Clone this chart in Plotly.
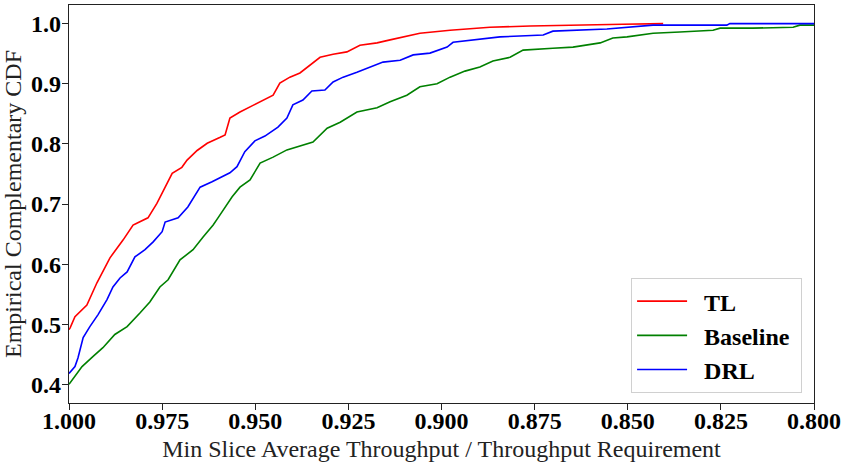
import plotly.graph_objects as go

# TL (red)
tl_x = [1.0000, 0.9997, 0.9984, 0.9952, 0.9925, 0.9890, 0.9855, 0.9828, 0.9818, 0.9788,
        0.9764, 0.9737, 0.9723, 0.9697, 0.9683, 0.9656, 0.9629, 0.9594, 0.9581, 0.9568,
        0.9541, 0.9506, 0.9479, 0.9452, 0.9434, 0.9407, 0.9380, 0.9353, 0.9326, 0.9291,
        0.9254, 0.9219, 0.9173, 0.9138, 0.9103, 0.9058, 0.8977, 0.8889, 0.8870, 0.8762,
        0.8663, 0.8513, 0.8405]
tl_y = [0.491, 0.494, 0.5125, 0.532, 0.569, 0.6105, 0.640, 0.665, 0.668, 0.677,
        0.701, 0.735, 0.751, 0.761, 0.773, 0.789, 0.801, 0.811, 0.815, 0.843,
        0.853, 0.864, 0.873, 0.881, 0.901, 0.911, 0.918, 0.931, 0.944, 0.949,
        0.953, 0.964, 0.968, 0.973, 0.978, 0.984, 0.989, 0.9925, 0.994, 0.996,
        0.9975, 0.999, 1.000]

# Baseline (green)
bl_x = [1.0000, 0.9984, 0.9965, 0.9936, 0.9909, 0.9877, 0.9844, 0.9809, 0.9783, 0.9756,
        0.9734, 0.9702, 0.9667, 0.9640, 0.9613, 0.9600, 0.9562, 0.9541, 0.9514, 0.9487,
        0.9452, 0.9415, 0.9380, 0.9345, 0.9307, 0.9272, 0.9227, 0.9173, 0.9138, 0.9093,
        0.9058, 0.9012, 0.8977, 0.8937, 0.8897, 0.8862, 0.8816, 0.8781, 0.8701, 0.8647,
        0.8574, 0.8540, 0.8502, 0.8432, 0.8360, 0.8271, 0.8252, 0.8164, 0.8056, 0.8038,
        0.8000]
bl_y = [0.400, 0.413, 0.4295, 0.446, 0.461, 0.483, 0.496, 0.519, 0.537, 0.562,
        0.574, 0.607, 0.624, 0.645, 0.665, 0.677, 0.712, 0.728, 0.740, 0.768,
        0.778, 0.790, 0.797, 0.803, 0.826, 0.836, 0.853, 0.860, 0.870, 0.881,
        0.895, 0.900, 0.911, 0.921, 0.928, 0.938, 0.944, 0.956, 0.959, 0.961,
        0.968, 0.976, 0.978, 0.984, 0.986, 0.989, 0.9925, 0.9925, 0.994, 0.9975,
        0.9975]

# DRL (blue)
drl_x = [1.0000, 0.9997, 0.9984, 0.9976, 0.9962, 0.9944, 0.9922, 0.9898, 0.9882, 0.9863,
         0.9844, 0.9823, 0.9796, 0.9774, 0.9750, 0.9742, 0.9707, 0.9681, 0.9648, 0.9616,
         0.9568, 0.9549, 0.9528, 0.9501, 0.9474, 0.9439, 0.9415, 0.9399, 0.9372, 0.9348,
         0.9313, 0.9291, 0.9264, 0.9227, 0.9192, 0.9157, 0.9111, 0.9076, 0.9031, 0.8985,
         0.8969, 0.8905, 0.8843, 0.8727, 0.8701, 0.8556, 0.8502, 0.8432, 0.8234, 0.8226,
         0.8000]
drl_y = [0.418, 0.420, 0.4295, 0.444, 0.478, 0.496, 0.516, 0.541, 0.562, 0.577,
         0.587, 0.612, 0.624, 0.637, 0.654, 0.670, 0.677, 0.695, 0.728, 0.737,
         0.752, 0.762, 0.787, 0.805, 0.813, 0.828, 0.843, 0.865, 0.873, 0.888,
         0.8895, 0.903, 0.911, 0.919, 0.928, 0.936, 0.939, 0.948, 0.951, 0.961,
         0.969, 0.974, 0.978, 0.981, 0.9875, 0.991, 0.994, 0.9975, 0.9975, 1.000,
         1.000]

x_ticks = [1.000, 0.975, 0.950, 0.925, 0.900, 0.875, 0.850, 0.825, 0.800]
y_ticks = [0.4, 0.5, 0.6, 0.7, 0.8, 0.9, 1.0]

FONT = "Liberation Serif, Times New Roman, serif"
SP = "&nbsp;&nbsp;"

fig = go.Figure()
fig.add_trace(go.Scatter(x=tl_x, y=tl_y, mode="lines", name=SP + "<b>TL</b>",
                         legendgroup="a", line=dict(color="#ff0000", width=1.6)))
fig.add_trace(go.Scatter(x=bl_x, y=bl_y, mode="lines", name=SP + "<b>Baseline</b>&nbsp;",
                         legendgroup="b", line=dict(color="#008000", width=1.6)))
fig.add_trace(go.Scatter(x=drl_x, y=drl_y, mode="lines", name=SP + "<b>DRL</b>",
                         legendgroup="c", line=dict(color="#0000ff", width=1.6)))

axis_common = dict(showgrid=False, zeroline=False, showline=True, linecolor="#222",
                   linewidth=1.2, mirror=True, ticks="outside", ticklen=6,
                   tickcolor="#222", tickfont=dict(family=FONT, size=24, color="black"))

fig.update_xaxes(range=[1.0, 0.8], tickvals=x_ticks,
                 ticktext=[f"<b>{v:.3f}</b>" for v in x_ticks],
                 ticklabelstandoff=-10,
                 title=dict(text="Min Slice Average Throughput / Throughput Requirement",
                            font=dict(family=FONT, size=24, color="#222"), standoff=12),
                 **axis_common)
fig.update_yaxes(range=[0.369, 1.031], tickvals=y_ticks,
                 ticktext=[f"<b>{v:.1f}</b>" for v in y_ticks],
                 ticklabelstandoff=-4,
                 title=dict(text="Empirical Complementary CDF",
                            font=dict(family=FONT, size=24, color="#222"), standoff=4),
                 **axis_common)

fig.update_layout(
    width=842, height=462,
    margin=dict(l=69, r=28, t=5, b=59, autoexpand=False),
    paper_bgcolor="white", plot_bgcolor="white",
    showlegend=True,
    legend=dict(x=0.984, y=0.025, xanchor="right", yanchor="bottom",
                bgcolor="rgba(255,255,255,0.8)", bordercolor="#d0d0d0", borderwidth=1,
                font=dict(family=FONT, size=24, color="black"),
                itemwidth=50, tracegroupgap=0),
)

fig.write_html("out.html", config={"displayModeBar": False},
               post_script="document.body.style.margin='0';")
